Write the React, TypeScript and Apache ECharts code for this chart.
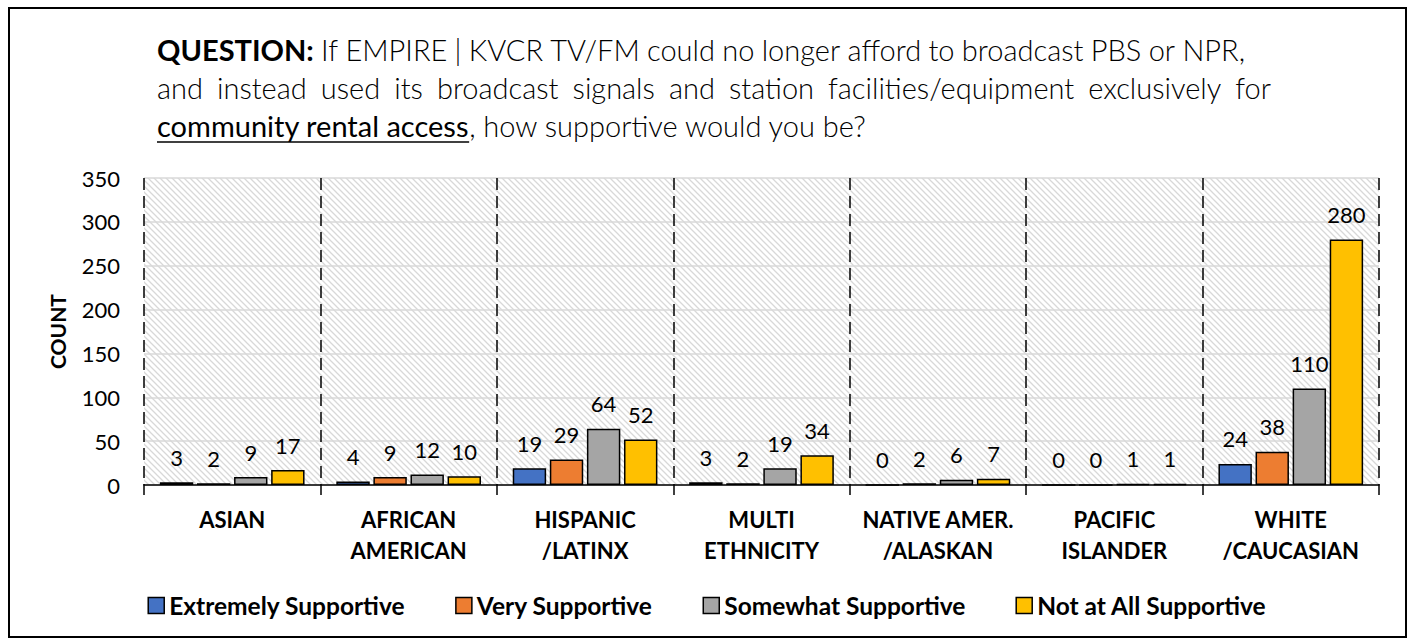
import React, { useEffect, useRef } from "react";
import * as echarts from "echarts";

const categories = [
  "ASIAN",
  "AFRICAN\nAMERICAN",
  "HISPANIC\n/LATINX",
  "MULTI\nETHNICITY",
  "NATIVE AMER.\n/ALASKAN",
  "PACIFIC\nISLANDER",
  "WHITE\n/CAUCASIAN",
];
const seriesNames = [
  "Extremely Supportive",
  "Very Supportive",
  "Somewhat Supportive",
  "Not at All Supportive",
];
const extremely = [3, 4, 19, 3, 0, 0, 24];
const very = [2, 9, 29, 2, 2, 0, 38];
const somewhat = [9, 12, 64, 19, 6, 1, 110];
const notAtAll = [17, 10, 52, 34, 7, 1, 280];
const colors = ["#4472C4", "#ED7D31", "#A5A5A5", "#FFC000"];

const titleLine1Bold = "QUESTION:";
const titleLine1Rest = "If EMPIRE | KVCR TV/FM could no longer afford to broadcast PBS or NPR,";
const titleLine2 = "and instead used its broadcast signals and station facilities/equipment exclusively for";
const titleLine3a = "community rental access";
const titleLine3b = ", how supportive would you be?";

const FONT = "Lato, 'Open Sans', sans-serif";
const TITLE_SIZE = 29;

export default function App() {
  const ref = useRef<HTMLDivElement>(null);
  useEffect(() => {
    if (!ref.current) return;
    const chart = echarts.init(ref.current, undefined, { renderer: "svg" });

    const c = document.createElement("canvas");
    c.width = 6;
    c.height = 6;
    const ctx = c.getContext("2d")!;
    ctx.fillStyle = "#ffffff";
    ctx.fillRect(0, 0, 6, 6);
    ctx.strokeStyle = "#d8d8d8";
    ctx.lineWidth = 1.3;
    ctx.beginPath();
    ctx.moveTo(-1, -1);
    ctx.lineTo(7, 7);
    ctx.moveTo(-7, -1);
    ctx.lineTo(1, 7);
    ctx.moveTo(5, -1);
    ctx.lineTo(13, 7);
    ctx.stroke();

    const m = document.createElement("canvas").getContext("2d")!;
    const fontOf = (w: string) => `${w} ${TITLE_SIZE}px Lato`;
    const measure = (t: string, w: string) => {
      m.font = fontOf(w);
      return m.measureText(t).width;
    };
    const underlineW = measure(titleLine3a, "normal");

    // justified title lines
    const justify = (
      words: { t: string; w: string }[],
      left: number,
      width: number,
      top: number
    ) => {
      const widths = words.map((wd) => measure(wd.t, wd.w));
      const sum = widths.reduce((a, b) => a + b, 0);
      const gap = (width - sum) / (words.length - 1);
      let x = left;
      return words.map((wd, i) => {
        const el = {
          type: "text",
          left: x,
          top,
          style: { text: wd.t, font: `${wd.w} ${TITLE_SIZE}px ${FONT}`, fill: "#000" },
        };
        x += widths[i] + gap;
        return el;
      });
    };
    const line1Words = [
      { t: titleLine1Bold, w: "bold" },
      ...titleLine1Rest.split(" ").map((t) => ({ t, w: "300" })),
    ];
    const line2Words = titleLine2.split(" ").map((t) => ({ t, w: "300" }));

    const data = [extremely, very, somewhat, notAtAll];

    chart.setOption({
      animation: false,
      backgroundColor: "#ffffff",
      textStyle: { fontFamily: FONT },
      grid: {
        left: 144,
        right: 35,
        top: 178,
        bottom: 159,
        show: true,
        borderWidth: 0,
        backgroundColor: { image: c, repeat: "repeat" } as any,
      },
      legend: {
        bottom: 21,
        left: "center",
        itemWidth: 16,
        itemHeight: 16,
        itemGap: 50,
        icon: "rect",
        data: seriesNames.map((n, i) => ({
          name: n,
          itemStyle: { color: colors[i], borderColor: "#000", borderWidth: 1.5 },
        })),
        textStyle: { fontFamily: FONT, fontWeight: "bold", fontSize: 24.5, color: "#000" },
      },
      xAxis: {
        type: "category",
        data: categories,
        axisLine: { lineStyle: { color: "#000", width: 1.5 } },
        axisTick: { show: true, length: 10, lineStyle: { color: "#000", width: 1.5 } },
        splitLine: {
          show: true,
          lineStyle: { color: "#000", width: 1.5, type: [12, 6] },
        },
        axisLabel: {
          fontFamily: FONT,
          fontWeight: "bold",
          fontSize: 22,
          color: "#000",
          lineHeight: 31,
          margin: 19,
          interval: 0,
        },
      },
      yAxis: {
        type: "value",
        min: 0,
        max: 350,
        interval: 50,
        name: "COUNT",
        nameLocation: "middle",
        nameRotate: 90,
        nameGap: 76,
        nameTextStyle: { fontFamily: FONT, fontWeight: "bold", fontSize: 21, color: "#000" },
        axisLine: { show: false },
        axisTick: { show: false },
        splitLine: { lineStyle: { color: "#d9d9d9", width: 1.5 } },
        axisLabel: { fontFamily: FONT, fontSize: 22, color: "#000", margin: 24 },
      },
      series: data.map((d, i) => ({
        name: seriesNames[i],
        type: "bar",
        data: d,
        barGap: "11%",
        barCategoryGap: "18%",
        itemStyle: { color: colors[i], borderColor: "#000", borderWidth: 1.5 },
        label: {
          show: true,
          position: "top",
          distance: 14,
          fontFamily: FONT,
          fontSize: 22,
          color: "#000",
        },
      })),
      graphic: [
        {
          type: "rect",
          shape: { x: 9, y: 8, width: 1397, height: 629 },
          style: { fill: "none", stroke: "#000", lineWidth: 2 },
          z: 100,
        },
        ...justify(line1Words, 157, 1088, 35),
        ...justify(line2Words, 157, 1114, 73),
        {
          type: "text",
          left: 157,
          top: 111,
          style: {
            text: "{u|" + titleLine3a + "}" + titleLine3b,
            font: `300 ${TITLE_SIZE}px ${FONT}`,
            fill: "#000",
            rich: {
              u: { fontSize: TITLE_SIZE, fontFamily: FONT, fontWeight: "normal", fill: "#000" },
            },
          },
        },
        {
          type: "line",
          shape: { x1: 157, y1: 142, x2: 157 + underlineW, y2: 142 },
          style: { stroke: "#000", lineWidth: 1.5 },
        },
      ],
    });
    return () => chart.dispose();
  }, []);
  return (
    <div
      ref={ref}
      style={{ position: "fixed", left: 0, top: 0, width: 1414, height: 644 }}
    />
  );
}
